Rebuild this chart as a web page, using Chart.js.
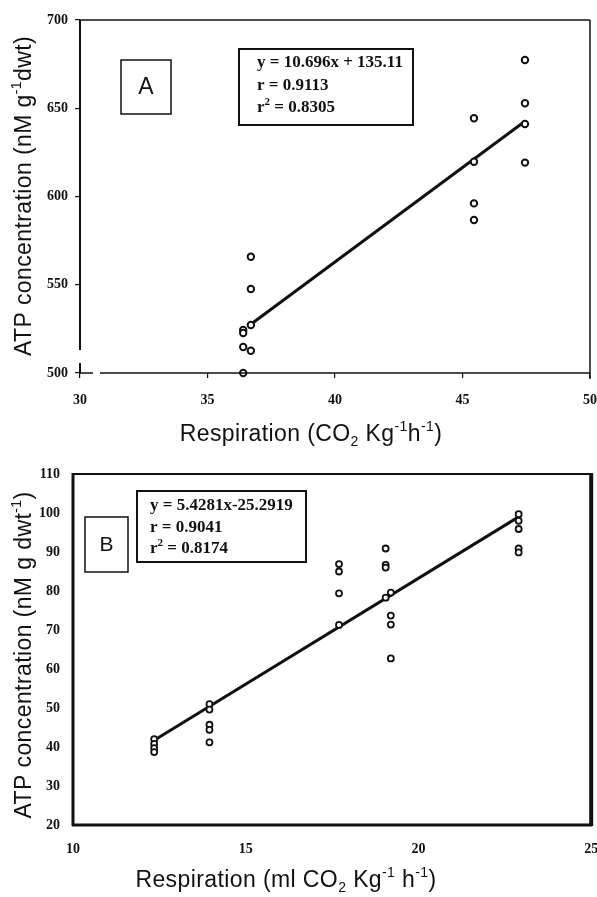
<!DOCTYPE html>
<html>
<head>
<meta charset="utf-8">
<script src="https://cdn.jsdelivr.net/npm/chart.js@4.4.1/dist/chart.umd.min.js"></script>
<style>
  html, body { margin: 0 ; padding: 0 ; background: #fff ; }
  body { width: 597px ; height: 897px ; position: relative ; overflow: hidden ; }
  canvas { position: absolute ; left: 0 ; }
  #chartA { top: 0 ; }
  #chartB { top: 450px ; }
</style>
</head>
<body>
<canvas id="chartA" width="597" height="450"></canvas>
<canvas id="chartB" width="597" height="447"></canvas>
<script>

// ---------------- Panel A : respiration (CO2 Kg-1 h-1) vs ATP -------------
const RESP_A = [ 36.4, 36.4, 36.4, 36.4,
                 36.7, 36.7, 36.7, 36.7,
                 45.45, 45.45, 45.45, 45.45,
                 47.45, 47.45, 47.45, 47.45 ] ;
const ATP_A  = [ 524.4, 522.7, 514.7, 500.0,
                 565.9, 547.6, 527.2, 512.6,
                 644.3, 619.7, 596.1, 586.7,
                 677.3, 652.8, 641.1, 619.2 ] ;
const SLOPE_A      = 10.696 ;
const INTERCEPT_A  = 135.11 ;
const FIT_RANGE_A  = [ 36.7, 47.45 ] ;
const X_TICKS_A    = [ 30, 35, 40, 45, 50 ] ;
const Y_TICKS_A    = [ 500, 550, 600, 650, 700 ] ;
const STATS_A      = [ [ [ 'y = 10.696x + 135.11' ] ],
                       [ [ 'r = 0.9113' ] ],
                       [ [ 'r' ], [ '2', 'sup' ], [ ' = 0.8305' ] ] ] ;
const X_TITLE_A    = [ [ 'Respiration (CO' ], [ '2', 'sub' ], [ ' Kg' ], [ '-1', 'sup' ],
                       [ 'h' ], [ '-1', 'sup' ], [ ')' ] ] ;
const Y_TITLE_A    = [ [ 'ATP concentration (nM g' ], [ '-1', 'sup' ], [ 'dwt)' ] ] ;

// ---------------- Panel B : respiration (ml CO2 Kg-1 h-1) vs ATP ----------
const RESP_B = [ 12.35, 12.35, 12.35, 12.35,
                 13.95, 13.95, 13.95, 13.95, 13.95,
                 17.7, 17.7, 17.7, 17.7,
                 19.05, 19.05, 19.05, 19.05,
                 19.2, 19.2, 19.2, 19.2,
                 22.9, 22.9, 22.9, 22.9, 22.9 ] ;
const ATP_B  = [ 42.0, 40.8, 39.7, 38.7,
                 51.0, 49.6, 45.7, 44.4, 41.2,
                 86.9, 85.0, 79.4, 71.3,
                 90.9, 86.7, 86.0, 78.3,
                 79.6, 73.7, 71.4, 62.7,
                 99.7, 98.0, 95.9, 90.9, 89.9 ] ;
const SLOPE_B      = 5.4281 ;
const INTERCEPT_B  = -25.2919 ;
const FIT_RANGE_B  = [ 12.35, 22.9 ] ;
const X_TICKS_B    = [ 10, 15, 20, 25 ] ;
const Y_TICKS_B    = [ 20, 30, 40, 50, 60, 70, 80, 90, 100, 110 ] ;
const STATS_B      = [ [ [ 'y = 5.4281x-25.2919' ] ],
                       [ [ 'r = 0.9041' ] ],
                       [ [ 'r' ], [ '2', 'sup' ], [ ' = 0.8174' ] ] ] ;
const X_TITLE_B    = [ [ 'Respiration (ml CO' ], [ '2', 'sub' ], [ ' Kg' ], [ '-1', 'sup' ],
                       [ ' h' ], [ '-1', 'sup' ], [ ')' ] ] ;
const Y_TITLE_B    = [ [ 'ATP concentration (nM g dwt' ], [ '-1', 'sup' ], [ ')' ] ] ;

const INK        = '#111111' ;
const SANS       = "'Liberation Sans', Arial, sans-serif" ;
const SERIF      = "'Liberation Serif', 'Times New Roman', serif" ;
const TICK_FONT  = { family: SERIF, size: 14, weight: 'bold' } ;

// ---------------- Helpers ------------------------------------------------

function toPoints( xs, ys ) {
    return xs.map( ( x, i ) => ( { x: x, y: ys[i] } ) ) ;
}

function fitLine( range, slope, intercept ) {
    return range.map( x => ( { x: x, y: slope * x + intercept } ) ) ;
}

function partFont( part, size, base ) {
    const small = ( part[1] == 'sup' || part[1] == 'sub' ) ;
    return base.replace( '{s}', ( small ? Math.round( size * 0.62 ) : size ) + 'px' ) ;
}

// Draws text made of normal / superscript / subscript pieces
function drawRichText( ctx, parts, x, y, size, base, align, spacing ) {
    ctx.letterSpacing = ( spacing || 0 ) + 'px' ;
    let total = 0 ;
    parts.forEach( p => {
        ctx.font = partFont( p, size, base ) ;
        total += ctx.measureText( p[0] ).width ;
    } ) ;
    let cx = ( align == 'center' ) ? x - total / 2 : x ;
    ctx.textAlign = 'left' ;
    ctx.textBaseline = 'middle' ;
    parts.forEach( p => {
        ctx.font = partFont( p, size, base ) ;
        let dy = 0 ;
        if( p[1] == 'sup' ) { dy = -size * 0.34 ; }
        if( p[1] == 'sub' ) { dy =  size * 0.32 ; }
        ctx.fillText( p[0], cx, y + dy ) ;
        cx += ctx.measureText( p[0] ).width ;
    } ) ;
    ctx.letterSpacing = '0px' ;
}

function strokeLine( ctx, x1, y1, x2, y2, w ) {
    ctx.lineWidth = w ;
    ctx.beginPath() ;
    ctx.moveTo( x1, y1 ) ;
    ctx.lineTo( x2, y2 ) ;
    ctx.stroke() ;
}

function makeDecor( cfg ) {
    return {
        id: 'panelDecor',
        afterDraw( chart ) {
            const ctx = chart.ctx ;
            const a = chart.chartArea ;
            ctx.save() ;
            ctx.strokeStyle = INK ;
            ctx.fillStyle = INK ;
            cfg.frame( ctx, a ) ;

            // panel letter box
            const lb = cfg.labelBox ;
            ctx.lineWidth = 1.5 ;
            ctx.strokeRect( lb.x, lb.y, lb.w, lb.h ) ;
            ctx.font = lb.size + 'px ' + SANS ;
            ctx.textAlign = 'center' ;
            ctx.textBaseline = 'middle' ;
            ctx.fillText( lb.text, lb.x + lb.w / 2, lb.y + lb.h / 2 + 1 ) ;

            // regression statistics box
            const sb = cfg.statsBox ;
            ctx.lineWidth = 2 ;
            ctx.strokeRect( sb.x, sb.y, sb.w, sb.h ) ;
            sb.lines.forEach( ( parts, i ) => {
                drawRichText( ctx, parts, sb.textX, sb.firstY + i * sb.step,
                              sb.size, 'bold {s} ' + SERIF, 'left', 0 ) ;
            } ) ;

            // axis titles
            drawRichText( ctx, cfg.xTitle.parts, cfg.xTitle.x, cfg.xTitle.y,
                          cfg.titleSize, '{s} ' + SANS, 'center', cfg.titleSpacing ) ;
            ctx.translate( cfg.yTitle.x, cfg.yTitle.y ) ;
            ctx.rotate( -Math.PI / 2 ) ;
            drawRichText( ctx, cfg.yTitle.parts, 0, 0,
                          cfg.titleSize, '{s} ' + SANS, 'center', cfg.titleSpacing ) ;
            ctx.restore() ;
        }
    } ;
}

function frameA( ctx, a ) {
    strokeLine( ctx, a.left, a.top, a.right, a.top, 1.5 ) ;
    strokeLine( ctx, a.right, a.top, a.right, a.bottom + 6, 1.5 ) ;
    strokeLine( ctx, a.left, a.top, a.left, a.bottom - 23, 2 ) ;
    // broken axes near the origin
    strokeLine( ctx, a.left, a.bottom - 10, a.left, a.bottom, 2 ) ;
    strokeLine( ctx, a.left, a.bottom, a.left + 13, a.bottom, 1.5 ) ;
    strokeLine( ctx, a.left + 20, a.bottom, a.right, a.bottom, 1.5 ) ;
}

function frameB( ctx, a ) {
    strokeLine( ctx, a.left, a.top, a.right, a.top, 2 ) ;
    strokeLine( ctx, a.right, a.top - 1, a.right, a.bottom + 1, 4 ) ;
    strokeLine( ctx, a.left, a.top - 1, a.left, a.bottom + 1, 3 ) ;
    strokeLine( ctx, a.left - 1, a.bottom, a.right + 1, a.bottom, 3 ) ;
}

function buildPanel( canvasId, cfg ) {

    const pointSet = {
        data                 : toPoints( cfg.xs, cfg.ys ),
        pointStyle           : 'circle',
        pointRadius          : cfg.pointRadius,
        pointBorderWidth     : cfg.pointBorder,
        pointBackgroundColor : '#ffffff',
        pointBorderColor     : INK,
        showLine             : false,
        clip                 : false,
        order                : 1,
    } ;

    const lineSet = {
        type        : 'line',
        data        : fitLine( cfg.fitRange, cfg.slope, cfg.intercept ),
        borderColor : INK,
        borderWidth : cfg.lineWidth,
        pointRadius : 0,
        tension     : 0,
        clip        : false,
        order       : 2,
    } ;

    const tickGrid = {
        display         : true,
        drawOnChartArea : false,
        drawTicks       : cfg.tickLength > 0,
        tickLength      : cfg.tickLength,
        color           : INK,
        lineWidth       : 1.2,
    } ;

    return new Chart( document.getElementById( canvasId ), {
        type: 'scatter',
        data: { datasets: [ pointSet, lineSet ] },
        options: {
            responsive: false,
            animation: false,
            devicePixelRatio: 1,
            layout: { padding: cfg.padding },
            plugins: {
                legend: { display: false },
                tooltip: { enabled: false },
            },
            scales: {
                x: {
                    type: 'linear',
                    min: cfg.xTicks[0],
                    max: cfg.xTicks.at( -1 ),
                    grid: tickGrid,
                    border: { display: false },
                    afterBuildTicks: s => { s.ticks = cfg.xTicks.map( v => ( { value: v } ) ) ; },
                    afterFit: s => {
                        s.height = cfg.xAxisHeight ;
                        s.paddingLeft = 0 ;
                        s.paddingRight = 0 ;
                    },
                    ticks: {
                        font: TICK_FONT,
                        color: INK,
                        padding: cfg.xTickPad,
                        maxRotation: 0,
                    },
                },
                y: {
                    type: 'linear',
                    min: cfg.yTicks[0],
                    max: cfg.yTicks.at( -1 ),
                    grid: tickGrid,
                    border: { display: false },
                    afterBuildTicks: s => { s.ticks = cfg.yTicks.map( v => ( { value: v } ) ) ; },
                    afterFit: s => {
                        s.width = cfg.yAxisWidth ;
                        s.paddingTop = 0 ;
                        s.paddingBottom = 0 ;
                    },
                    ticks: {
                        font: TICK_FONT,
                        color: INK,
                        padding: cfg.yTickPad,
                    },
                },
            },
        },
        plugins: [ makeDecor( cfg.decor ) ],
    } ) ;
}

// ---------------- Draw both panels ---------------------------------------

buildPanel( 'chartA', {
    xs: RESP_A, ys: ATP_A,
    slope: SLOPE_A, intercept: INTERCEPT_A, fitRange: FIT_RANGE_A,
    xTicks: X_TICKS_A, yTicks: Y_TICKS_A,
    pointRadius: 3.2, pointBorder: 2, lineWidth: 3,
    tickLength: 5, xTickPad: 14, yTickPad: 7,
    padding: { left: 0, top: 20, right: 7, bottom: 17 },
    xAxisHeight: 60, yAxisWidth: 80,
    decor: {
        frame: frameA,
        labelBox: { x: 121, y: 60, w: 50, h: 54, text: 'A', size: 23 },
        statsBox: { x: 239, y: 49, w: 174, h: 76, textX: 257, firstY: 63, step: 22.5,
                    size: 17, lines: STATS_A },
        titleSize: 23,
        titleSpacing: 0.4,
        xTitle: { parts: X_TITLE_A, x: 311, y: 435 },
        yTitle: { parts: Y_TITLE_A, x: 25, y: 196 },
    },
} ) ;

buildPanel( 'chartB', {
    xs: RESP_B, ys: ATP_B,
    slope: SLOPE_B, intercept: INTERCEPT_B, fitRange: FIT_RANGE_B,
    xTicks: X_TICKS_B, yTicks: Y_TICKS_B,
    pointRadius: 3, pointBorder: 1.8, lineWidth: 3,
    tickLength: 0, xTickPad: 16, yTickPad: 13,
    padding: { left: 0, top: 24, right: 5, bottom: 22 },
    xAxisHeight: 50, yAxisWidth: 73,
    decor: {
        frame: frameB,
        labelBox: { x: 85, y: 67, w: 43, h: 55, text: 'B', size: 21 },
        statsBox: { x: 137, y: 41, w: 169, h: 71, textX: 150, firstY: 56, step: 21.5,
                    size: 17, lines: STATS_B },
        titleSize: 23,
        titleSpacing: 0.4,
        xTitle: { parts: X_TITLE_B, x: 286, y: 431 },
        yTitle: { parts: Y_TITLE_B, x: 25, y: 205 },
    },
} ) ;

</script>
</body>
</html>
